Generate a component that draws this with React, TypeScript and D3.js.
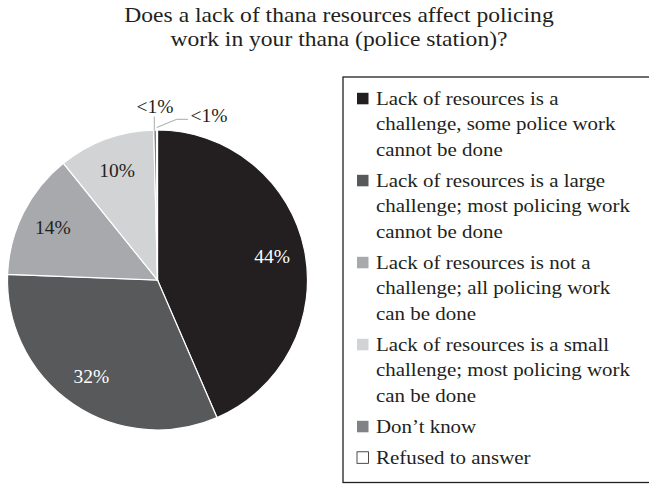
import React from "react";
import * as d3 from "d3";

const titleLines = [
  "Does a lack of thana resources affect policing",
  "work in your thana (police station)?",
];
const categories = [
  "Lack of resources is a challenge, some police work cannot be done",
  "Lack of resources is a large challenge; most policing work cannot be done",
  "Lack of resources is not a challenge; all policing work can be done",
  "Lack of resources is a small challenge; most policing work can be done",
  "Don’t know",
  "Refused to answer",
];
const legendLines = [
  ["Lack of resources is a", "challenge, some police work", "cannot be done"],
  ["Lack of resources is a large", "challenge; most policing work", "cannot be done"],
  ["Lack of resources is not a", "challenge; all policing work", "can be done"],
  ["Lack of resources is a small", "challenge; most policing work", "can be done"],
  ["Don’t know"],
  ["Refused to answer"],
];
const values = [43.5, 32.1, 13.6, 10.4, 0.3, 0.1];
const labels = ["44%", "32%", "14%", "10%", "<1%", "<1%"];
const colors = ["#231f20", "#58595b", "#a7a9ac", "#d1d3d4", "#808285", "#ffffff"];
const labelColors = ["#ffffff", "#ffffff", "#231f20", "#231f20", "#231f20", "#231f20"];

const W = 649;
const H = 485;
const FONT = "'Liberation Serif', 'Times New Roman', serif";

export default function App() {
  const cx = 157.5;
  const cy = 280;
  const r = 150;
  const pie = d3.pie<number>().sort(null).value((d) => d);
  const arcs = pie(values);
  const arc = d3.arc<d3.PieArcDatum<number>>().innerRadius(0).outerRadius(r);
  const labelArc = d3.arc<d3.PieArcDatum<number>>().innerRadius(117).outerRadius(117);

  const lineH = 25.5;
  const gap = 5.5;
  let y = 105;
  const legendItems = legendLines.map((lines, i) => {
    const start = y;
    y += lines.length * lineH + gap;
    return { lines, start, i };
  });

  return (
    <svg width={W} height={H} style={{ position: "absolute", left: 0, top: 0, background: "#fff" }}>
      <rect x={0} y={0} width={W} height={H} fill="#fff" />
      <g fontFamily={FONT} fill="#231f20" transform="translate(339,0) scale(1.15,1)">
        {titleLines.map((t, i) => (
          <text key={i} x={0} y={22.5 + i * 23.5} textAnchor="middle" fontSize={20.5}>
            {t}
          </text>
        ))}
      </g>
      <g transform={`translate(${cx},${cy})`}>
        {arcs.map((a, i) => (
          <path key={i} d={arc(a) || ""} fill={colors[i]} stroke="#fff" strokeWidth={1.2} />
        ))}
        {arcs.slice(0, 4).map((a, i) => {
          const [lx, ly] = labelArc.centroid(a);
          return (
            <text
              key={i}
              x={lx}
              y={ly}
              dy="0.35em"
              textAnchor="middle"
              fontFamily={FONT}
              fontSize={19.5}
              fill={labelColors[i]}
            >
              {labels[i]}
            </text>
          );
        })}
      </g>
      {/* leader lines for tiny slices */}
      <g fontFamily={FONT} fontSize={19.5} fill="#231f20">
        <line x1={154.3} y1={116.5} x2={154.3} y2={130.5} stroke="#a7a9ac" strokeWidth={1} />
        <text x={155} y={113} textAnchor="middle">{labels[4]}</text>
        <polyline
          points="156.7,127.5 176.7,119.3 188,119.3"
          fill="none"
          stroke="#a7a9ac"
          strokeWidth={1}
        />
        <text x={190.5} y={122}>{labels[5]}</text>
      </g>
      <rect x={343} y={77} width={320} height={405.5} fill="none" stroke="#231f20" strokeWidth={1.3} />
      <g fontFamily={FONT} fontSize={19.3} fill="#231f20">
        {legendItems.map(({ lines, start, i }) => (
          <g key={i}>
            <rect
              x={357}
              y={start - 12.2}
              width={11.5}
              height={11.5}
              fill={colors[i]}
              stroke={i === 5 ? "#231f20" : "none"}
              strokeWidth={0.8}
            />
            <g transform="translate(376,0) scale(1.085,1)">
              {lines.map((l, j) => (
                <text key={j} x={0} y={start + j * lineH}>
                  {l}
                </text>
              ))}
            </g>
          </g>
        ))}
      </g>
    </svg>
  );
}
